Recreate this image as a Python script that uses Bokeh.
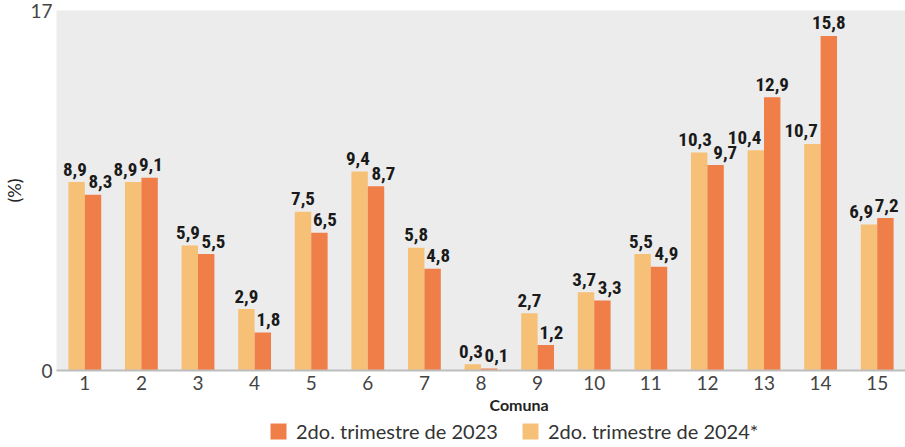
from bokeh.plotting import figure
from bokeh.layouts import column
from bokeh.models import (ColumnDataSource, FactorRange, Range1d, FixedTicker, Legend,
                          LegendItem, Title)
from bokeh.transform import dodge
from bokeh.core.properties import value
from bokeh.embed import file_html
from bokeh.resources import INLINE

comunas = [str(i) for i in range(1, 16)]
v2024 = [8.9, 8.9, 5.9, 2.9, 7.5, 9.4, 5.8, 0.3, 2.7, 3.7, 5.5, 10.3, 10.4, 10.7, 6.9]
v2023 = [8.3, 9.1, 5.5, 1.8, 6.5, 8.7, 4.8, 0.1, 1.2, 3.3, 4.9, 9.7, 12.9, 15.8, 7.2]
y_ticks = [0, 17]
y_max = 17
label_2023 = "2do. trimestre de 2023"
label_2024 = "2do. trimestre de 2024*"

C23 = "#F07E48"
C24 = "#F6C177"

# ---- layout constants ----
FIG_W, FIG_H = 905, 418
B_LEFT, B_TOP, B_BOTTOM = 52, 10, 48
FRAME_W = FIG_W - B_LEFT
FRAME_H = FIG_H - B_TOP - B_BOTTOM
W = 0.29                      # bar width (category units)
LAB_FS = 19                   # label font size px
LAB_GAP = 6                   # gap between bar top and label baseline (px)
BASELINE_FIX = 7              # renderer places the text a little low


def fmt(v):
    return f"{v:.1f}".replace(".", ",")


def text_w(s):
    # rough advance-width estimate for the condensed bold label font
    return sum(0.5 * LAB_FS if ch.isdigit() else 0.24 * LAB_FS for ch in s)


# simple label repel: avoid neighbouring bar and the other label
cat_px = FRAME_W / len(comunas)
bw = W * cat_px
ppu = FRAME_H / y_max
cap, desc = 0.72 * LAB_FS, 3
pad_bar, pad_lab = 3, 2
off24, off23 = [], []
for a, b in zip(v2024, v2023):
    la, lb = fmt(a), fmt(b)
    wa, wb = text_w(la), text_w(lb)
    ha, hb = a * ppu, b * ppu
    base_a, base_b = ha + LAB_GAP, hb + LAB_GAP
    oa = ob = 0.0
    ca, cb = -bw / 2, bw / 2        # label centres relative to category centre
    if hb > base_a - desc:          # dark bar reaches into light label
        oa = min(0.0, -pad_bar - (ca + wa / 2))
    if ha > base_b - desc:          # light bar reaches into dark label
        ob = max(0.0, pad_bar - 1 - (cb - wb / 2))
    lo_a, hi_a = base_a - desc, base_a + cap
    lo_b, hi_b = base_b - desc, base_b + cap
    if lo_a < hi_b and lo_b < hi_a:
        ov = (ca + oa + wa / 2) + pad_lab - (cb + ob - wb / 2)
        if ov > 0:
            oa -= ov / 2
            ob += ov / 2
    off24.append(oa)
    off23.append(ob)

gap_units = (LAB_GAP + BASELINE_FIX) / ppu
src = ColumnDataSource(dict(
    comuna=comunas, v24=v2024, v23=v2023,
    y24=[v + gap_units for v in v2024], y23=[v + gap_units for v in v2023],
    l24=[fmt(v) for v in v2024], l23=[fmt(v) for v in v2023],
    o24=off24, o23=off23,
))

p = figure(width=FIG_W, height=FIG_H, x_range=FactorRange(*comunas, range_padding=0),
           y_range=Range1d(0, y_max), output_backend="svg", toolbar_location=None,
           min_border_top=B_TOP, min_border_right=0, min_border_left=B_LEFT,
           min_border_bottom=B_BOTTOM)
p.outline_line_color = None
p.background_fill_color = "#ECECEC"
p.border_fill_color = "white"
p.xgrid.visible = False
p.ygrid.visible = False

r24 = p.vbar(x=dodge('comuna', -W / 2, range=p.x_range), top='v24', width=W, source=src,
             fill_color=C24, line_color=None)
r23 = p.vbar(x=dodge('comuna', W / 2, range=p.x_range), top='v23', width=W, source=src,
             fill_color=C23, line_color=None)

lab_font = value("'Roboto Condensed', 'Noto Sans Condensed', 'DejaVu Sans Condensed', Roboto")
for off, ycol, lab, xo in ((-W / 2, 'y24', 'l24', 'o24'), (W / 2, 'y23', 'l23', 'o23')):
    p.text(x=dodge('comuna', off, range=p.x_range), y=ycol, text=lab, source=src,
           x_offset=xo,
           text_align='center', text_baseline='alphabetic',
           text_font=lab_font, text_font_style='bold', text_font_size=f'{LAB_FS}px',
           text_color="#1a1a1a")

tick_font = "Lato"
ya = p.yaxis[0]
ya.ticker = FixedTicker(ticks=y_ticks)
ya.axis_line_color = None
ya.major_tick_line_color = None
ya.minor_tick_line_color = None
ya.major_tick_out = 0
ya.major_tick_in = 0
ya.major_label_standoff = 4
ya.major_label_text_font = tick_font
ya.major_label_text_font_size = "19px"
ya.major_label_text_color = "#444444"
ya.axis_label = "(%)"
ya.axis_label_text_font = tick_font
ya.axis_label_text_font_style = "normal"
ya.axis_label_text_font_size = "18px"
ya.axis_label_text_color = "#222222"
ya.axis_label_standoff = 2

xa = p.xaxis[0]
xa.axis_line_color = "#BDBDBD"
xa.axis_line_width = 2
xa.major_tick_line_color = None
xa.minor_tick_line_color = None
xa.major_tick_out = 0
xa.major_tick_in = 0
xa.major_label_standoff = 5
xa.axis_label_standoff = 0
xa.major_label_text_font = tick_font
xa.major_label_text_font_size = "19px"
xa.major_label_text_color = "#444444"

t = Title(text="Comuna", align="left", offset=433, text_font=tick_font,
          text_font_style="bold", text_font_size="16px", text_color="#222222",
          standoff=0)
p.add_layout(t, "below")

# legend strip
lg = figure(width=FIG_W, height=447 - FIG_H, x_range=Range1d(0, 1), y_range=Range1d(0, 1),
            output_backend="svg", toolbar_location=None,
            x_axis_type=None, y_axis_type=None,
            min_border_left=0, min_border_right=0, min_border_top=0, min_border_bottom=0)
lg.outline_line_color = None
lg.background_fill_color = "white"
lg.border_fill_color = "white"
lg.xgrid.visible = False
lg.ygrid.visible = False
dummy = ColumnDataSource(dict(x=[0.5], top=[0.0]))
d23 = lg.vbar(x='x', top='top', width=0.0, source=dummy, fill_color=C23, line_color=None)
d24 = lg.vbar(x='x', top='top', width=0.0, source=dummy, fill_color=C24, line_color=None)

legend = Legend(items=[LegendItem(label=label_2023, renderers=[d23]),
                       LegendItem(label=label_2024, renderers=[d24])],
                orientation="horizontal", location=(212, 4),
                padding=0, margin=0, spacing=22, label_standoff=8,
                glyph_width=20, glyph_height=20, label_height=20,
                border_line_color=None, background_fill_alpha=0,
                label_text_font=tick_font, label_text_font_size="20px",
                label_text_color="#333333")
lg.add_layout(legend, "center")

layout = column(p, lg, spacing=0)
open("out.html", "w").write(file_html(layout, INLINE))
